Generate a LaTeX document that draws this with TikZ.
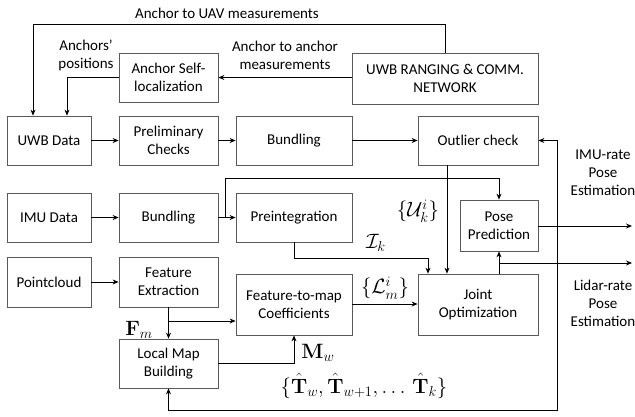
\documentclass[tikz,border=0pt]{standalone}
\usepackage[no-math]{fontspec}
\setmainfont{Carlito}
\usetikzlibrary{positioning,calc,arrows.meta}
\definecolor{boxgray}{HTML}{5A5A5A}

\begin{document}
\begin{tikzpicture}[x=1pt, y=-1pt,
  blk/.style={draw=boxgray, line width=0.8pt,
             minimum height=49pt, minimum width=99pt,
             align=center, font=\fontsize{15}{18}\selectfont},
  txt/.style={align=center, font=\fontsize{15}{18}\selectfont},
  mlbl/.style={inner sep=1pt, font=\fontsize{20}{24}\selectfont},
  edge/.style={line width=0.8pt, -{Stealth[length=6pt,width=5pt]}},
]
\useasboundingbox (0,0) rectangle (635,416);

\node[blk, minimum width=186pt, minimum height=51pt] (ranging) at (445, 78.5) {UWB RANGING \& COMM.\\NETWORK};
\node[blk]                          (selfloc)  at (168.5, 77.5)  {Anchor Self-\\localization};

\node[blk, minimum width=84pt]  (uwb)      at (49, 140.5)    {UWB Data};
\node[blk]                      (prelim)   at (168.5, 140.5) {Preliminary\\Checks};
\node[blk, minimum width=116pt] (bund1)    at (294, 140.5)   {Bundling};
\node[blk, minimum width=120pt] (outlier)  at (478, 140.5)   {Outlier check};

\node[blk, minimum width=84pt]  (imu)      at (49, 217.5)    {IMU Data};
\node[blk]                      (bund2)    at (168.5, 217.5) {Bundling};
\node[blk, minimum width=116pt] (preint)   at (294, 217.5)   {Preintegration};
\node[blk, minimum width=78pt, minimum height=51pt] (posepred) at (499, 225.5) {Pose\\Prediction};

\node[blk, minimum width=84pt, minimum height=50pt] (pcloud) at (49, 282) {Pointcloud};
\node[blk, minimum height=50pt] (featext)  at (168.5, 282)   {Feature\\Extraction};
\node[blk, minimum width=116pt, minimum height=61pt] (f2m)   at (294, 304.5) {Feature-to-map\\Coefficients};
\node[blk, minimum width=120pt, minimum height=61pt] (joint) at (478, 304.5) {Joint\\Optimization};
\node[blk]                      (localmap) at (168.5, 363.5) {Local Map\\Building};

% UWB part
\draw[edge] (ranging.north) -- ++(0,-28) -| ([xshift=-16pt]uwb.north);
\draw[edge] (selfloc.east -| ranging.west) -- (selfloc.east);
\draw[edge] (selfloc.west) -| ([xshift=18pt]uwb.north);
\draw[edge] (uwb) -- (prelim);
\draw[edge] (prelim) -- (bund1);
\draw[edge] (bund1) -- (outlier);
\draw[edge] ([xshift=-31pt]outlier.south) -- ([xshift=-31pt]joint.north);

\node[txt] (uavlbl)  at (227, 13)  {Anchor to UAV measurements};
\node[txt] (anclbl)  at (285, 55)  {Anchor to anchor\\measurements};
\node[txt] (poslbl)  at (86, 55)   {Anchors’\\positions};

% IMU part
\draw[edge] (imu) -- (bund2);
\draw[edge] (bund2) -- (preint);
\draw[edge] ([xshift=7pt]bund2.east) -- ++(0,-39.5) -| (posepred.north);
\draw[edge] (preint.south) -- ++(0,16) -| ([xshift=-50pt]joint.north);

% lidar part
\coordinate (fmsplit) at (169, 321);
\draw[edge] (pcloud.east |- featext) -- (featext.west);
\draw[edge] (featext.south) -- (localmap.north);
\draw[edge] (fmsplit) -- (fmsplit -| f2m.west);
\draw[edge] (localmap.east) -| (f2m.south);
\draw[edge] (f2m.east |- 0,304) -- (joint.west |- 0,304);

% outputs and feedback
\coordinate (imuout) at (632, 226);
\coordinate (lidout) at (632, 263);
\coordinate (fb)     at (557, 226);
\draw[edge] (joint.north -| posepred.south) -- (posepred.south);
\draw[edge] (posepred.south |- lidout) -- (lidout);
\draw[edge] (posepred.east |- imuout) -- (imuout);
\draw[edge] (fb) |- (outlier.east);
\draw[edge] (fb) -- (557, 410) -| (localmap.south);

\node[txt] (imulbl) at (603, 173) {IMU-rate\\Pose\\Estimation};
\node[txt] (lidlbl) at (603, 303) {Lidar-rate\\Pose\\Estimation};

\node[mlbl] (ulbl) at (418, 211) {$\{\mathcal{U}_k^i\}$};
\node[mlbl] (ilbl) at (376, 243) {$\mathcal{I}_k$};
\node[mlbl] (llbl) at (385, 288) {$\{\mathcal{L}_m^i\}$};
\node[mlbl] (flbl) at (139, 330) {$\mathbf{F}_m$};
\node[mlbl] (mlbl) at (318, 353) {$\mathbf{M}_w$};
\node[mlbl] (tlbl) at (364, 386) {$\{\hat{\mathbf{T}}_w, \hat{\mathbf{T}}_{w+1}, \ldots\, \hat{\mathbf{T}}_k\}$};
\end{tikzpicture}
\end{document}
